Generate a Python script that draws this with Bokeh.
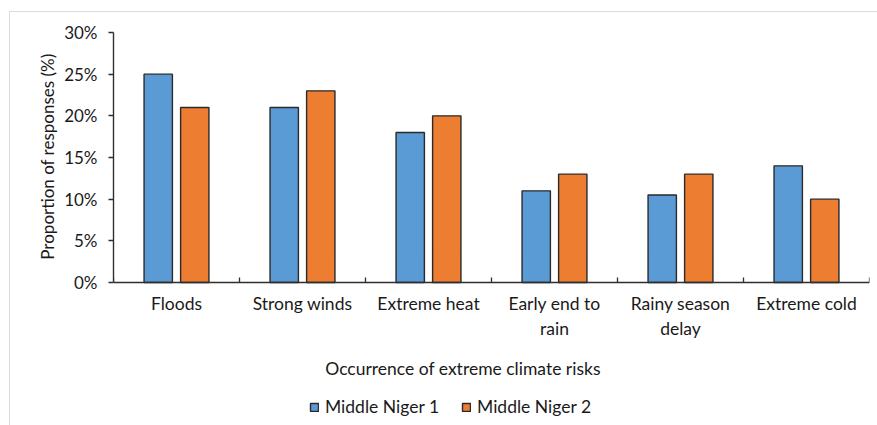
from bokeh.plotting import figure
from bokeh.models import (Range1d, FixedTicker, PrintfTickFormatter, Legend,
                          LegendItem, Title, Label, ColumnDataSource)
from bokeh.transform import dodge
from bokeh.embed import file_html
from bokeh.resources import INLINE

# Survey results: share of responses naming each climate risk
categories = ["Floods", "Strong winds", "Extreme heat",
              "Early end to\nrain", "Rainy season\ndelay", "Extreme cold"]
middle_niger_1 = [25, 21, 18, 11, 10.5, 14]
middle_niger_2 = [21, 23, 20, 13, 13, 10]
y_ticks = [0, 5, 10, 15, 20, 25, 30]

FONT = "Lato"
TEXT = "#1a1a1a"
BLUE = "#5B9BD5"
ORANGE = "#ED7D31"
EDGE = "#2a2a2a"
AXIS = "#2e2e2e"

# plot area: 250 px for 0-30 %, plus 143 px underneath for labels and legend
Y_MAX = 30
Y_MIN = -Y_MAX * 143 / 250

centers = [i + 0.5 for i in range(len(categories))]
boundaries = list(range(len(categories) + 1))
src = ColumnDataSource(dict(x=centers, s1=middle_niger_1, s2=middle_niger_2))

p = figure(width=877, height=425, output_backend="svg", toolbar_location=None,
           x_range=Range1d(0, len(categories)), y_range=Range1d(Y_MIN, Y_MAX),
           min_border_left=113, min_border_right=8, min_border_top=32,
           min_border_bottom=0)
p.outline_line_color = None
p.background_fill_color = None
p.border_fill_color = None
p.xgrid.grid_line_color = None
p.ygrid.grid_line_color = None
# thin grey chart-area frame along the top and left edges
p.styles = {
    "background-color": "white",
    "background-image": "linear-gradient(#dcdcdc, #dcdcdc), linear-gradient(#dcdcdc, #dcdcdc)",
    "background-size": "868px 1px, 1px 414px",
    "background-position": "9px 11px, 9px 11px",
    "background-repeat": "no-repeat",
}

r1 = p.vbar(x=dodge("x", -0.145), top="s1", width=0.225, source=src,
            fill_color=BLUE, line_color=EDGE, line_width=1.4)
r2 = p.vbar(x=dodge("x", 0.145), top="s2", width=0.225, source=src,
            fill_color=ORANGE, line_color=EDGE, line_width=1.4)

# category axis at 0 %: labels at centres, inward ticks at category boundaries
xa = p.xaxis[0]
xa.fixed_location = 0
xa.ticker = FixedTicker(ticks=centers, minor_ticks=boundaries)
xa.major_label_overrides = {c: lab for c, lab in zip(centers, categories)}
xa.major_tick_line_color = None
xa.major_tick_in = 0
xa.major_tick_out = 0
xa.minor_tick_in = 5
xa.minor_tick_out = 0
xa.minor_tick_line_color = AXIS
xa.minor_tick_line_width = 1.3
xa.axis_line_color = AXIS
xa.axis_line_width = 1.4
xa.major_label_standoff = 10
xa.major_label_text_font = FONT
xa.major_label_text_font_size = "17.5px"
xa.major_label_text_color = TEXT

ya = p.yaxis[0]
ya.bounds = (0, Y_MAX)
ya.ticker = FixedTicker(ticks=y_ticks, minor_ticks=[])
ya.formatter = PrintfTickFormatter(format="%d%%")
ya.major_tick_in = 0
ya.major_tick_out = 5
ya.major_tick_line_color = AXIS
ya.major_tick_line_width = 1.3
ya.axis_line_color = AXIS
ya.axis_line_width = 1.4
ya.major_label_standoff = 11
ya.major_label_text_font = FONT
ya.major_label_text_font_size = "17px"
ya.major_label_text_color = TEXT

# vertical axis title, kept beside the 0-30 % part of the axis
ytitle = Title(text="Proportion of responses (%)", align="right", offset=21,
               text_font=FONT, text_font_size="17px", text_font_style="normal",
               text_color=TEXT, standoff=8)
p.add_layout(ytitle, "left")

# horizontal axis title under the category labels
xtitle = Label(x=2.774, y=-10.3, text="Occurrence of extreme climate risks",
               text_align="center", text_baseline="alphabetic",
               text_font=FONT, text_font_size="17.5px", text_color=TEXT)
p.add_layout(xtitle)

legend = Legend(items=[LegendItem(label="Middle Niger 1", renderers=[r1]),
                       LegendItem(label="Middle Niger 2", renderers=[r2])],
                orientation="horizontal", location=(196, 8),
                border_line_color=None, background_fill_alpha=0,
                glyph_width=10, glyph_height=10, label_standoff=6,
                spacing=22, padding=4, margin=0,
                label_text_font=FONT, label_text_font_size="17.5px",
                label_text_color=TEXT)
p.add_layout(legend)

open("out.html", "w").write(file_html(p, INLINE))
